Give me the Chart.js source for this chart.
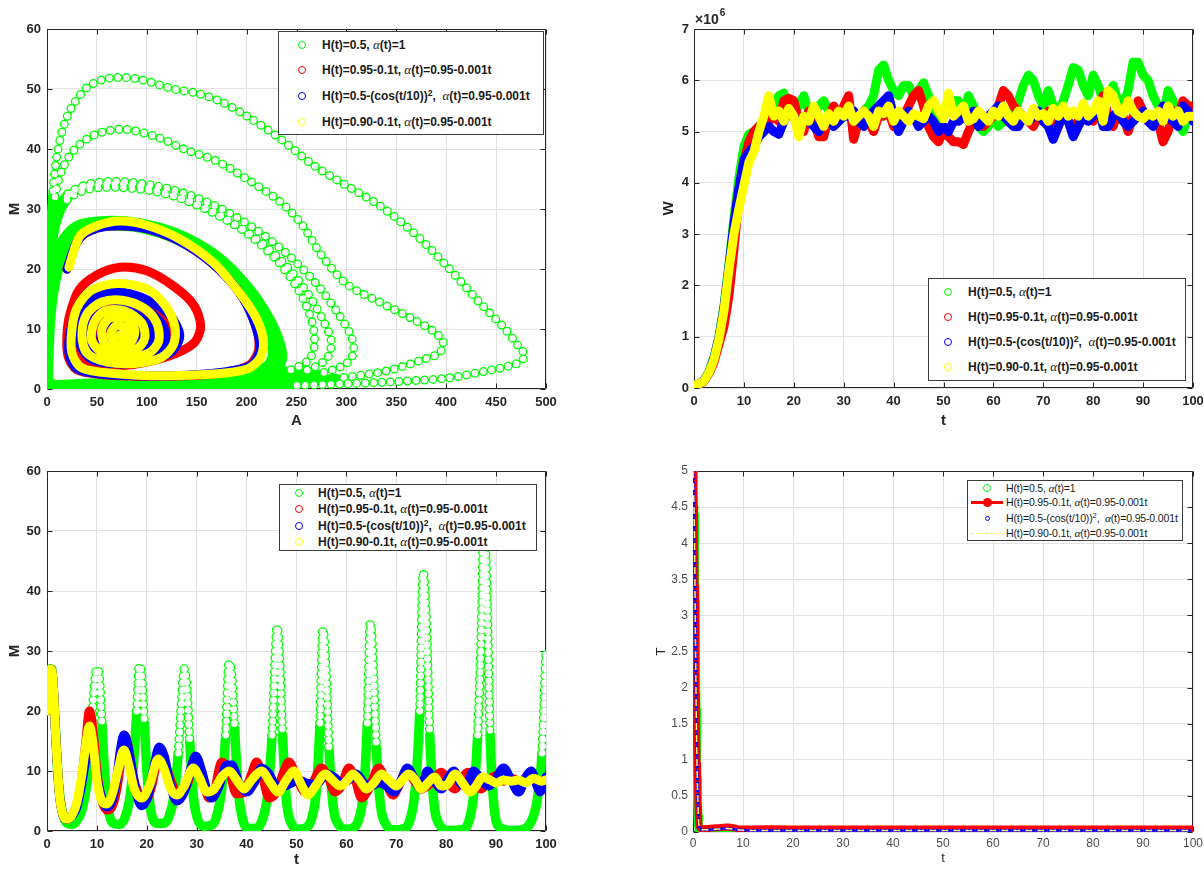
<!DOCTYPE html>
<html><head><meta charset="utf-8">
<script src="https://cdn.jsdelivr.net/npm/chart.js@4.4.1/dist/chart.umd.min.js"></script>
<style>
html,body{margin:0;padding:0;background:#fff;}
body{position:relative;width:1204px;height:871px;overflow:hidden;font-family:'Liberation Sans',Arial,sans-serif;}
canvas{position:absolute;}
.leg{position:absolute;background:#fff;border:1px solid #3c3c3c;box-sizing:border-box;}
.leg .txt{position:absolute;white-space:nowrap;height:14px;line-height:14px;color:#1a1a1a;}
.leg .mk{position:absolute;box-sizing:border-box;}
.al{font-family:'Liberation Serif','DejaVu Serif',serif;font-style:italic;font-weight:normal;font-size:1.08em;}
sup{font-size:0.72em;line-height:0;vertical-align:0.5em;}
</style></head><body>
<canvas id="c1" width="600" height="435" style="left:0;top:0;"></canvas>
<canvas id="c2" width="564" height="435" style="left:640px;top:0;"></canvas>
<canvas id="c3" width="600" height="431" style="left:0;top:440px;"></canvas>
<canvas id="c4" width="564" height="431" style="left:640px;top:440px;"></canvas>
<script>
// ---------------- series labels & colours ----------------
const seriesLabels = [
  'H(t)=0.5, <span class="al">α</span>(t)=1',
  'H(t)=0.95-0.1t, <span class="al">α</span>(t)=0.95-0.001t',
  'H(t)=0.5-(cos(t/10))<sup>2</sup>,&nbsp; <span class="al">α</span>(t)=0.95-0.001t',
  'H(t)=0.90-0.1t, <span class="al">α</span>(t)=0.95-0.001t'
];
const GREEN = 'rgb(0,255,0)', RED = 'rgb(255,0,0)', BLUE = 'rgb(0,0,255)', YELLOW = 'rgb(255,255,0)';
const seriesColors = [GREEN, RED, BLUE, YELLOW];

// ---------------- panel 1: phase plane (A, M) ----------------
const phaseGreen = [
[20,20],[30,24.5],[45,26.8],[70,27.6],[100,27.2],[133,25],[167,21.3],[193,16.8],[212,12.5],[223,8.5],[226,6],[221,4],[205,3],[170,2.3],[120,1.7],[70,1.2],[30,0.9],[8,0.8],[2,1.5],
[2,5],[4,12],[9,18],[18,23],[35,26],[60,27.2],[85,27.3],[120,26],[160,22],[190,17.5],[210,13],[224,8.5],[229,6],[225,3.8],[205,2.6],[160,2],[100,1.4],[50,1],[15,0.7],[3,0.6],
[1.5,5],[3,13],[7,19],[15,24],[32,26.8],[60,27.7],[90,27.5],[125,26],[163,22.5],[195,17.5],[215,12.5],[228,8],[232,5.5],[227,3.5],[210,2.4],[165,1.8],[110,1.3],[55,0.9],[15,0.6],[3,0.5],
[1.5,5],[3,13],[8,19.5],[17,24],[35,26.5],[62,27.1],[92,26.8],[130,24.8],[168,21],[198,16],[216,11.5],[226,7.5],[228,5],[221,3.3],[200,2.3],[150,1.6],[90,1.1],[40,0.8],[8,0.5],[2,0.5],
[1.2,5],[2.5,13],[6,20],[14,24.5],[30,27.3],[58,28.1],[90,27.8],[130,26],[170,22.3],[203,16.8],[224,11.5],[234,7.5],[236,5],[230,3.2],[210,2.1],[160,1.4],[100,0.9],[45,0.5],[10,0.3],[2,0.3],
[1,5],[2,14],[4,22],[9,28],[20,32],[40,33.8],[65,34.2],[95,33.7],[133,31.8],[167,29.3],[200,26],[230,21.5],[252,16.5],[265,11.5],[268,7.5],[262,4.8],[240,3],[190,1.8],[120,1],[55,0.5],[12,0.3],[2,0.3],
[1,5],[2,14],[4,22],[9,27.5],[20,31.5],[42,33.3],[70,33.6],[105,33],[140,31.5],[175,28.8],[210,25],[240,20.5],[263,15.5],[278,11],[285,7.8],[280,5],[258,3],[205,1.7],[130,0.9],[60,0.4],[12,0.2],[2,0.2],
[1,5],[2,14],[4,22],[9,28.5],[21,32.5],[43,34.2],[70,34.6],[105,34],[140,32.5],[175,30],[210,26.5],[242,22.3],[270,17.5],[292,12.5],[305,8.7],[307,6],[298,4],[270,2.5],[210,1.4],[130,0.6],[60,0.3],[12,0.2],[2,0.2],
[1,5],[2,15],[4,25],[8,32],[15,36.5],[28,40],[48,42.4],[77,43.3],[110,42],[140,39.8],[170,38],[200,35],[233,31.3],[255,27.5],[275,22.3],[300,17.5],[333,14.5],[365,11.8],[388,9.5],[397,7.8],[393,6],[375,4.8],[340,3],[290,1.8],[220,1],[140,0.5],[60,0.2],[12,0.1],[2,0.2],
[1,5],[2,15],[3.5,25],[6,33],[10,39],[17,44],[27,47.6],[42,50.5],[62,51.8],[90,51.7],[127,50],[150,49.3],[173,48],[200,45.5],[233,41.8],[267,37.3],[300,33.9],[333,30.6],[367,26.1],[400,20.6],[433,14.5],[458,10.2],[473,7],[479,5.5],[470,4.2],[440,3],[400,1.8],[333,1.1],[250,0.6],[150,0.3],[60,0.2],[12,0.1],[2,0.2],
[1,5],[2,15],[3.5,24],[5,30]
];
const phaseRed = [
[20,20],[32,25],[50,26.8],[75,27.2],[105,26.5],[140,24],[172,20],[197,15],[210,10],[212,6.5],[203,4],[180,2.8],[140,2.2],[95,2.1],[55,2.4],[30,3.2],[21,5.5],[20,9],[23,12.5],[32,16.5],[50,19],[73,20.3],[100,19.7],[128,17],[147,14],[154,10.5],[148,7.8],[130,6],[100,4.5],[70,3.8],[45,4],[32,6],[30,9.5],[37,13],[52,15.3],[75,16],[100,14.8],[120,11.5],[123,8],[112,6],[88,5.2],[62,5.5],[45,7.5],[42,10.5],[50,12.8],[68,13.8],[90,13],[106,10.5],[106,7.8],[93,6.3],[72,6],[56,7.5],[52,10],[60,12],[78,12.3],[93,10.5],[94,8],[82,6.8],[66,7.3],[61,9.5],[68,11.2],[82,10.8],[86,8.8],[76,7.8],[70,9]
];
const phaseBlue = [
[20,20],[32,25],[50,26.8],[75,27.2],[105,26.5],[140,24],[172,20],[197,15],[210,10],[213,6.5],[205,4],[180,2.9],[140,2.3],[95,2.2],[55,2.5],[30,3.4],[22,6],[24,10],[32,13.5],[48,15.5],[70,16.2],[98,15],[122,12.5],[133,9],[125,6.2],[100,4.6],[70,4.2],[45,4.9],[33,7.5],[36,11.5],[48,14.3],[72,15],[100,13.2],[117,10.3],[118,7.3],[100,5.5],[72,5.1],[50,6.4],[43,9.3],[51,12.3],[72,13.4],[93,12],[105,9.5],[101,7.2],[85,6.1],[64,6.4],[54,8.5],[59,11],[76,11.9],[90,10.4],[93,8.3],[81,7.1],[67,7.9],[66,10],[77,10.5],[83,9]
];
const phaseYellow = [
[22,20.3],[33,25.5],[50,27.2],[73,28],[100,27.3],[133,25],[167,21],[193,16],[210,11.7],[217,7.8],[213,5],[200,3.3],[167,2.5],[117,2.2],[67,2.6],[35,3.5],[25,6],[25,10],[30,13.5],[45,16.5],[70,17.6],[100,16.7],[118,14],[128,10.5],[127,7.5],[115,5.3],[90,4.3],[60,4.5],[40,6],[35,9],[40,12.5],[55,14.5],[75,14.8],[97,13.5],[110,11],[112,8],[102,6],[80,5.2],[58,5.8],[45,8],[47,11],[58,13],[78,13],[95,11],[98,8.5],[90,6.7],[72,6.2],[58,7.5],[55,10],[63,11.8],[80,11.8],[88,9.8],[84,7.8],[70,7.5],[64,9.2],[70,10.6],[80,10],[78,8.6],[73,9]
];

// ---------------- panel 2: W(t) in units of 10^6 ----------------
const tW = [0,1,2,3,4,5,6,7,8,9,10,11,12,13,14,15,16,17,18,19,20,21,22,23,24,25,26,27,28,29,30,31,32,33,34,35,36,37,38,39,40,41,42,43,44,45,46,47,48,49,50,51,52,53,54,55,56,57,58,59,60,61,62,63,64,65,66,67,68,69,70,71,72,73,74,75,76,77,78,79,80,81,82,83,84,85,86,87,88,89,90,91,92,93,94,95,96,97,98,99,100];
const wGreen = [0.05,0.08,0.15,0.32,0.6,1.0,1.6,2.4,3.3,4.1,4.7,4.95,
5.0,5.1,5.2,5.4,5.5,5.7,5.75,5.5,5.3,5.5,
5.7,5.4,5.3,5.5,5.6,5.4,5.3,5.2,5.3,5.4,
5.3,5.2,5.4,5.5,5.7,6.2,6.3,6.0,5.8,5.7,
5.9,5.9,5.7,5.8,5.95,5.7,5.5,5.2,5.3,5.5,
5.6,5.6,5.3,5.7,5.5,5.1,5.0,5.1,5.3,5.1,
5.2,5.4,5.3,5.6,5.9,6.1,6.0,5.7,5.5,5.8,
5.5,5.3,5.6,5.9,6.25,6.2,5.9,5.7,6.1,5.9,
5.6,5.7,5.9,5.6,5.5,5.8,6.35,6.35,6.1,6.0,
5.7,5.5,5.3,5.8,5.6,5.2,5.0,5.3,5.4];
const wRed = [0.05,0.07,0.13,0.28,0.5,0.85,1.2,1.8,2.7,3.7,4.4,4.8,
5.0,5.1,5.1,5.2,5.3,5.2,5.6,5.65,5.6,5.2,
5.0,5.4,5.2,4.9,4.9,5.3,5.5,5.3,5.5,5.7,
4.85,5.2,5.4,5.2,5.0,5.3,5.3,5.4,5.1,5.3,
5.3,5.5,5.7,5.8,5.5,5.1,4.9,4.8,5.0,4.9,
4.8,4.8,4.75,5.0,5.2,5.3,5.1,5.2,5.3,5.5,
5.8,5.7,5.5,5.4,5.3,5.2,5.1,5.3,5.2,5.4,
5.2,5.1,5.3,5.2,5.1,5.2,5.4,5.3,5.2,5.5,
5.7,5.3,5.1,5.4,5.3,5.0,5.3,5.6,5.4,5.2,
5.3,5.2,4.8,5.0,5.4,5.3,5.6,5.5,5.5];
const wBlue = [0.05,0.08,0.15,0.3,0.58,0.98,1.55,2.35,3.2,3.9,4.45,4.6,
4.7,4.9,5.0,5.1,5.0,4.95,5.2,5.4,5.3,5.1,
5.3,5.2,5.1,5.0,5.2,5.3,5.1,5.2,5.3,5.3,
5.4,5.2,5.1,5.3,5.4,5.5,5.6,5.7,5.3,5.0,
5.2,5.4,5.3,5.1,5.2,5.3,5.2,5.0,5.1,5.0,
5.2,5.2,5.3,5.2,5.4,5.1,5.2,5.3,5.4,5.5,
5.3,5.2,5.1,5.1,5.3,5.2,5.3,5.4,5.2,5.1,
4.85,5.1,5.4,5.2,4.9,5.1,5.3,5.2,5.3,5.5,
5.1,5.1,5.3,5.4,5.2,5.1,5.2,5.3,5.4,5.2,
5.1,5.3,5.5,5.3,5.2,5.1,5.5,5.4,5.2];
const wYellow = [0.05,0.08,0.14,0.3,0.55,0.95,1.5,2.3,3.0,3.5,3.95,4.4,
4.6,5.0,5.3,5.7,5.3,5.4,5.2,5.45,5.3,4.9,
5.3,5.2,5.5,5.3,5.1,5.35,5.2,5.4,5.3,5.5,
5.2,5.3,5.4,5.3,5.1,5.4,5.35,5.5,5.2,5.4,
5.3,5.2,5.35,5.3,5.25,5.5,5.6,5.4,5.25,5.75,
5.3,5.4,5.5,5.2,5.25,5.4,5.3,5.2,5.4,5.3,
5.5,5.3,5.2,5.4,5.3,5.2,5.45,5.3,5.35,5.2,
5.45,5.3,5.5,5.3,5.4,5.3,5.55,5.3,5.4,5.6,
5.2,5.8,5.7,5.4,5.35,5.6,5.4,5.3,5.25,5.35,
5.3,5.4,5.2,5.5,5.3,5.4,5.2,5.3,5.3];

// ---------------- panel 3: M(t) ----------------
const tMGreen = [0,0.4,0.8,1.2,1.7,2.3,3,4,5,6,7,8,8.8,9.5,10,10.5,11,11.6,12.3,13.2,14.5,15.5,16.5,17.3,18,18.5,19,19.5,20.1,20.8,22,23.5,24.5,25.5,26.3,27,27.5,28,28.6,29.3,30,31.5,33,34,35,35.8,36.5,37,37.6,38.3,39.2,40.5,42,43.2,44.2,45.1,45.8,46.1,46.6,47.2,48,49,50.5,52,53,54,54.7,55.3,55.9,56.5,57.3,58.5,60,61.5,62.5,63.5,64.2,64.8,65.4,66,66.8,68,69.5,71.5,72.8,73.8,74.7,75.4,76,76.7,77.5,78.7,80.5,83,84.5,85.5,86.3,87,87.6,88.2,88.8,89.6,90.8,93,95.5,97,98.2,99.2,100];
const mGreen = [20,26,27.5,25,17,8,3.5,1.3,1.1,1.8,3.5,8,16,24,27,25.5,18,9,3.5,1.3,1.1,2,5,11,20,27.5,25.5,18,9,3.5,1.3,1.3,2.5,6,13,22,27,24,15,6,2.5,0.8,1,2.5,7,16,28,26,17,7,2,0.4,0.5,2,6,16,30,34,29,16,5,1.2,0.3,0.6,2,7,18,33.5,27,14,4.5,1,0.3,0.6,2,7,18,34.5,27,14,4.5,1,0.2,0.4,2,7,20,43,35,16,5,1,0.1,0.2,1.5,6,16,32,52,38,16,4,0.6,0.1,0.3,1.5,5,13,30];
const tMRed = [0,0.4,0.8,1.2,1.8,2.5,3.3,4,5,6,7,7.8,8.5,9.2,10,11,12,13,14,15,15.5,16.3,17.3,18.5,19.7,21,22.4,23.5,25,26.5,28,29.5,31,32.5,33.5,35,36.5,38,39.5,41,42,43.2,44.5,46,47.5,48.5,50,51.7,53,55,56.3,57.7,59,60.5,61.8,63,64.5,66.5,68,69.3,70.5,72,73.5,75,77,79,80.5,81.7,83,84.3,85.5,87,88.5,90,91.5,93,95,96.5,98,100];
const mRed = [20,26,27,25,15,6,2.5,2,2.6,4.5,9,15,20,17,10,5,3.5,4,7,13,16,14,9,6,5,7.5,12.5,11.5,8,6,7.5,11,9,5.5,6.5,11.5,10,6.2,6.5,9.5,11.5,9,5.5,6.5,10,11.5,9,6.5,7.5,10.5,9,6.5,7.5,10.5,8.5,5.5,7,10.5,8,6,7.5,10,8.5,7,8,9.8,8,7,8.5,9.8,8,7,8.5,9.2,8.3,8.8,8.2,9.2,8.5,8.2];
const tMBlue = [0,0.4,0.8,1.2,1.8,2.5,3.3,4,5,6,7,7.8,8.5,9.3,10,11,12,13,14,14.8,15.4,16,17,18,19,20.3,21.5,22.5,23.5,24.5,26,27.5,29,29.8,31,32,33,34.5,36,37,38.5,40,41.5,43,44.5,46,47.5,49,50.5,52,54,56,57.5,59,60.5,62,63.5,65,66.5,68,69.5,71,72.2,73.5,75,76.2,77.5,79,80.5,81.5,82.8,84,85.5,87,88.5,89.8,91.5,93,94.5,96,97,98.2,98.8,100];
const mBlue = [20,26,27,25,15,6,2.5,2,2.5,4,8,12,15,13,9,5.5,4,5,9,14,16,15,10.5,6,4.2,6,11,14,12.5,8.5,5,6.5,11,12.5,10,7,5.5,7.5,11,11,8,6.5,8,10.5,9.5,7.5,7.5,8,8.5,8,7.8,9.5,9,8,8.5,9.5,8,7.5,8,7.5,6.5,8.5,10.5,9,7,10,8.5,7,9,10,8,7.5,10,8.5,7.5,8.5,10.5,8.5,6.5,9,10,7.5,6.5,9];
const tMYellow = [0,0.4,0.8,1.2,1.8,2.5,3.3,4,5,6,7,7.8,8.5,9.3,10,11,12,13,14.2,15.4,16.4,17.5,19,20.5,22.3,23.4,24.8,26,27.5,29.3,30.5,32,33.5,35,36.5,38,39.5,41,43,44.8,46.3,47.8,49.5,50.8,52.3,53.8,55.8,57.2,58.8,60.2,61.3,62.6,64,65.5,67,68.5,70,71.2,72.5,73.8,75,76.3,77.7,79,80.3,81.8,83.3,84.8,86,87.3,88.8,90,91.5,93,94.5,96,97.5,99,100];
const mYellow = [20,26,27,25,15,6,2.5,2,2.6,4.8,9.5,14.5,17.5,14,8.5,5,4.5,6,10,13.5,11,7,5.5,7.5,12,10.5,7,6,7.5,10.5,9,6.5,7,9,10,8.5,7,8.5,10,8,6.5,8.3,10,8,6,7.5,9.5,8.5,7.5,8.5,9.5,8.5,7,8,9.5,8.5,7.5,8.5,9.5,8.5,7,8,9,7.5,7.8,9.5,8,6.5,7.5,9,8.5,8,8.5,8.3,8.5,8,8.8,8.3,8.5];

// ---------------- panel 4: T(t) ----------------
const tT = [0,0.1,0.2,0.3,0.4,0.5,0.6,0.7,0.8,0.9,1,1.1,1.2,1.4,1.7,2,3,4,5,6,7,8,9,10,12,15,20,25,30,40,50,60,70,80,90,100];
const TGreen = [5,4.7,4.4,3.9,3.2,2.4,1.7,1.15,0.75,0.45,0.22,0.1,0.04,0.01,0,0,0,0,0,0,0,0,0,0,0,0,0,0,0,0,0,0,0,0,0,0];
const TRed = [5,4.75,4.5,4.1,3.4,2.6,1.9,1.35,0.95,0.6,0.35,0.18,0.09,0.05,0.045,0.045,0.05,0.055,0.06,0.065,0.07,0.06,0.045,0.04,0.04,0.045,0.04,0.04,0.04,0.04,0.04,0.04,0.04,0.04,0.04,0.04];
const TBlue = [5,4.75,4.5,4.1,3.4,2.6,1.9,1.35,0.95,0.6,0.34,0.17,0.08,0.04,0.03,0.03,0.03,0.035,0.04,0.045,0.05,0.04,0.03,0.025,0.02,0.02,0.02,0.02,0.02,0.02,0.02,0.02,0.02,0.02,0.02,0.02];
const TYellow = [5,4.75,4.5,4.1,3.4,2.6,1.9,1.35,0.95,0.6,0.34,0.17,0.08,0.04,0.03,0.03,0.03,0.035,0.04,0.045,0.05,0.04,0.03,0.025,0.02,0.02,0.02,0.02,0.02,0.02,0.02,0.02,0.02,0.02,0.02,0.02];

// ---------------- helpers ----------------
const FONT = "'Liberation Sans', Arial, Helvetica, sans-serif";
Chart.defaults.font.family = FONT;
const GRID = '#e2e2e2';
const zip = (xs, ys) => xs.map((x, i) => ({x, y: ys[i]}));
const fromPairs = arr => arr.map(p => ({x: p[0], y: p[1]}));
const fmt = v => String(Math.round(v * 100) / 100);

function lineDS(data, color, width, extra) {
  return Object.assign({
    data, borderColor: color, backgroundColor: color, borderWidth: width,
    pointRadius: 0, pointHoverRadius: 0, borderCapStyle: 'round', borderJoinStyle: 'round',
    fill: false, tension: 0.3
  }, extra || {});
}
// green hollow-marker look: solid where the samples are dense, chain of rings where sparse
function ringPair(data, sparse, width, gap, extra) {
  const sp = ctx => sparse(ctx.p0DataIndex) && sparse(ctx.p1DataIndex);
  const green = lineDS(data, GREEN, width, Object.assign({
    segment: {borderDash: ctx => sp(ctx) ? [0, gap] : undefined}}, extra || {}));
  const white = lineDS(data, 'rgba(255,255,255,0)', width - 2.6, Object.assign({
    segment: {borderDash: ctx => sp(ctx) ? [0, gap] : undefined,
              borderColor: ctx => sp(ctx) ? '#ffffff' : undefined}}, extra || {}));
  return [white, green];
}

const boxPlugin = {
  id: 'box',
  beforeDatasetsDraw(chart) {
    const {ctx, chartArea: a, scales: {x, y}} = chart;
    ctx.save();
    ctx.strokeStyle = '#262626'; ctx.lineWidth = 1;
    const L = Math.round(a.left) + 0.5, R = Math.round(a.right) - 0.5, T = Math.round(a.top) + 0.5, B = Math.round(a.bottom) - 0.5;
    ctx.beginPath();
    ctx.rect(L, T, R - L, B - T);
    x.ticks.forEach(t => { const p = Math.round(x.getPixelForValue(t.value)) + 0.5;
      ctx.moveTo(p, B); ctx.lineTo(p, B - 5); ctx.moveTo(p, T); ctx.lineTo(p, T + 5); });
    y.ticks.forEach(t => { const p = Math.round(y.getPixelForValue(t.value)) + 0.5;
      ctx.moveTo(L, p); ctx.lineTo(L + 5, p); ctx.moveTo(R, p); ctx.lineTo(R - 5, p); });
    ctx.stroke();
    ctx.restore();
  }
};
const expoPlugin = {
  id: 'expo',
  afterDraw(chart) {
    const {ctx, chartArea: a} = chart;
    ctx.save();
    ctx.fillStyle = '#262626';
    ctx.font = 'bold 14px ' + FONT;
    ctx.textBaseline = 'alphabetic';
    ctx.fillText('×10', a.left + 1, a.top - 5);
    const w = ctx.measureText('×10').width;
    ctx.font = 'bold 10px ' + FONT;
    ctx.fillText('6', a.left + 2 + w, a.top - 13);
    ctx.restore();
  }
};

function makeChart(id, datasets, g, extraPlugins) {
  const wt = g.bold ? 'bold' : 'normal';
  const tickFont = {family: FONT, size: g.tickSize, weight: wt};
  const titleFont = {family: FONT, size: g.titleSize, weight: wt, lineHeight: 1.2};
  return new Chart(document.getElementById(id), {
    type: 'line',
    data: {datasets},
    options: {
      responsive: false, animation: false, devicePixelRatio: 1, events: [],
      layout: {padding: {top: g.top, right: g.right, left: 0, bottom: 0}},
      plugins: {legend: {display: false}, tooltip: {enabled: false}},
      scales: {
        x: {
          type: 'linear', min: g.xMin, max: g.xMax,
          afterFit: s => { s.height = g.xH; s.paddingLeft = 0; s.paddingRight = 0; },
          ticks: {stepSize: g.xStep, autoSkip: false, maxRotation: 0, padding: g.xTickPad, color: g.tickColor, font: tickFont, callback: v => fmt(v)},
          grid: {color: GRID, drawTicks: false, lineWidth: 1}, border: {display: false},
          title: {display: true, text: g.xTitle, color: '#262626', font: titleFont, padding: {top: 0, bottom: g.xTitlePad}}
        },
        y: {
          type: 'linear', min: g.yMin, max: g.yMax,
          afterFit: s => { s.width = g.yW; s.paddingTop = 0; s.paddingBottom = 0; },
          ticks: {stepSize: g.yStep, autoSkip: false, padding: g.yTickPad, color: g.tickColor, font: tickFont, callback: v => fmt(v)},
          grid: {color: GRID, drawTicks: false, lineWidth: 1}, border: {display: false},
          title: {display: true, text: g.yTitle, color: '#262626', font: titleFont, padding: {top: g.yTitlePad, bottom: 0}}
        }
      }
    },
    plugins: [boxPlugin].concat(extraPlugins || [])
  });
}

// ---------------- panel 1 ----------------
const ringFrom = 99; // first sample of the wider (M>30) cycles, drawn as hollow-marker chains
const p1Sparse = i => {
  const [a, m] = phaseGreen[i];
  return m > 29 || a > 238 || (i >= ringFrom && a > 12 && m > 3);
};
makeChart('c1', [
  lineDS(fromPairs(phaseYellow), YELLOW, 9),
  lineDS(fromPairs(phaseBlue), BLUE, 9),
  lineDS(fromPairs(phaseRed), RED, 9),
  ...ringPair(fromPairs(phaseGreen), p1Sparse, 9, 8.5)
], {xMin: 0, xMax: 500, xStep: 50, yMin: 0, yMax: 60, yStep: 10, xTitle: 'A', yTitle: 'M',
    top: 29, right: 54, yW: 47, xH: 46, bold: true, tickSize: 13, titleSize: 15, tickColor: '#262626',
    xTickPad: 6, yTickPad: 6, xTitlePad: 5, yTitlePad: 6});

// ---------------- panel 2 ----------------
const mono = {cubicInterpolationMode: 'monotone'};
makeChart('c2', [
  lineDS(zip(tW, wYellow), YELLOW, 9, {tension: 0}),
  lineDS(zip(tW, wBlue), BLUE, 9, {tension: 0}),
  lineDS(zip(tW, wRed), RED, 9, {tension: 0}),
  lineDS(zip(tW, wGreen), GREEN, 9, {tension: 0})
], {xMin: 0, xMax: 100, xStep: 10, yMin: 0, yMax: 7, yStep: 1, xTitle: 't', yTitle: 'W',
    top: 29, right: 11, yW: 54, xH: 47, bold: true, tickSize: 13, titleSize: 15, tickColor: '#262626',
    xTickPad: 6, yTickPad: 5, xTitlePad: 5, yTitlePad: 20}, [expoPlugin]);

// ---------------- panel 3 ----------------
const p3Sparse = i => mGreen[i] > 12;
makeChart('c3', [
  lineDS(zip(tMYellow, mYellow), YELLOW, 9, mono),
  lineDS(zip(tMBlue, mBlue), BLUE, 9, mono),
  lineDS(zip(tMRed, mRed), RED, 9, mono),
  ...ringPair(zip(tMGreen, mGreen), p3Sparse, 9.5, 7, mono)
], {xMin: 0, xMax: 100, xStep: 10, yMin: 0, yMax: 60, yStep: 10, xTitle: 't', yTitle: 'M',
    top: 31, right: 54, yW: 47, xH: 40, bold: true, tickSize: 13, titleSize: 15, tickColor: '#262626',
    xTickPad: 6, yTickPad: 6, xTitlePad: 2, yTitlePad: 6});

// ---------------- panel 4 ----------------
makeChart('c4', [
  lineDS(zip(tT, TYellow), 'rgb(245,245,120)', 1.5, {borderDash: [7, 5], borderCapStyle: 'butt', tension: 0}),
  lineDS(zip(tT, TBlue), BLUE, 3.4, {borderDash: [0, 4], tension: 0}),
  lineDS(zip(tT, TRed), RED, 7, {tension: 0}),
  lineDS(zip(tT, TGreen), GREEN, 9, {tension: 0})
], {xMin: 0, xMax: 100, xStep: 10, yMin: 0, yMax: 5, yStep: 0.5, xTitle: 't', yTitle: 'T',
    top: 31, right: 11, yW: 53, xH: 39, bold: false, tickSize: 12, titleSize: 13, tickColor: '#4d4d4d',
    xTickPad: 4, yTickPad: 5, xTitlePad: 5, yTitlePad: 14});

// ---------------- legends (HTML, inside the axes like the original) ----------------
function marker(kind, color) {
  const wrap = document.createElement('div');
  wrap.className = 'mk';
  if (kind === 'o') {
    Object.assign(wrap.style, {width: '8px', height: '8px', border: '1px solid ' + color, borderRadius: '50%', marginLeft: '-4px', marginTop: '-4px'});
  } else if (kind === 'dot') {
    Object.assign(wrap.style, {width: '5px', height: '5px', border: '1px solid ' + color, borderRadius: '50%', marginLeft: '-2.5px', marginTop: '-2.5px'});
  } else if (kind === 'lineDot') {
    Object.assign(wrap.style, {width: '32px', height: '3px', background: color, marginLeft: '-16px', marginTop: '-1.5px'});
    const d = document.createElement('div');
    Object.assign(d.style, {position: 'absolute', left: '12px', top: '-3px', width: '9px', height: '9px', background: color, borderRadius: '50%'});
    wrap.appendChild(d);
  } else if (kind === 'dash') {
    Object.assign(wrap.style, {width: '32px', height: '0', borderTop: '1.5px dashed rgb(245,245,120)', marginLeft: '-16px'});
  }
  return wrap;
}
function buildLegend(c) {
  const box = document.createElement('div');
  box.className = 'leg';
  Object.assign(box.style, {left: c.left + 'px', top: c.top + 'px', width: c.w + 'px', height: c.h + 'px', font: c.font});
  if (c.ls) box.style.letterSpacing = c.ls;
  seriesLabels.forEach((html, i) => {
    const m = marker(c.markers[i], seriesColors[i]);
    m.style.left = c.mx + 'px'; m.style.top = c.rows[i] + 'px';
    box.appendChild(m);
    const t = document.createElement('div');
    t.className = 'txt';
    t.innerHTML = html;
    t.style.left = c.tx + 'px'; t.style.top = (c.rows[i] - 7) + 'px';
    box.appendChild(t);
  });
  document.body.appendChild(box);
}
const boldFont = "bold 12px 'Liberation Sans', Arial, sans-serif";
buildLegend({left: 278, top: 31, w: 266, h: 104, rows: [13, 38, 64, 90], mx: 23, tx: 43, font: boldFont, markers: ['o', 'o', 'o', 'o']});
buildLegend({left: 928, top: 278, w: 258, h: 103, rows: [13, 38, 63, 88], mx: 19, tx: 39, font: boldFont, markers: ['o', 'o', 'o', 'o']});
buildLegend({left: 279, top: 484, w: 258, h: 67, rows: [8, 24, 41, 57], mx: 19, tx: 38, font: boldFont, markers: ['o', 'o', 'o', 'o']});
buildLegend({left: 967, top: 480, w: 216, h: 61, rows: [7, 21, 37, 52], mx: 19, tx: 38, font: "normal 10.5px 'Liberation Sans', Arial, sans-serif", ls: '-0.15px', markers: ['o', 'lineDot', 'dot', 'dash']});
</script>
</body></html>
